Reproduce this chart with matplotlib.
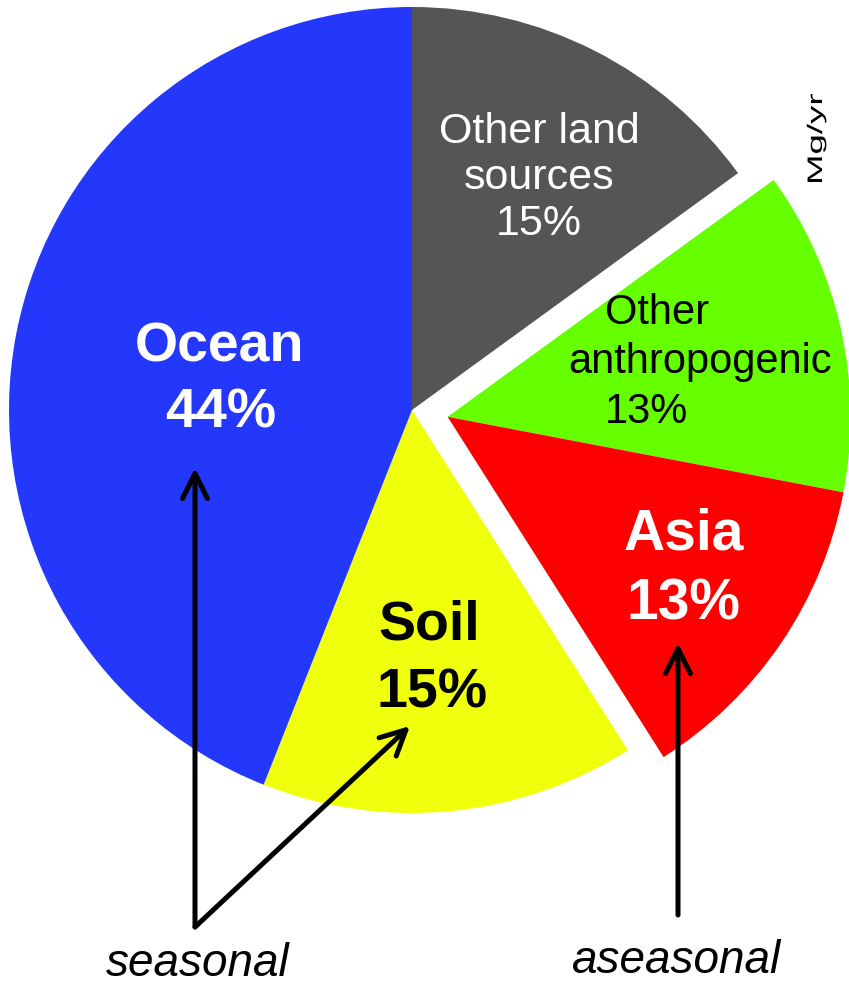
import matplotlib
matplotlib.use("Agg")
import matplotlib.pyplot as plt
import numpy as np
from matplotlib.textpath import TextPath
from matplotlib.patches import PathPatch
from matplotlib.font_manager import FontProperties
from matplotlib.transforms import Affine2D

plt.rcParams['font.family'] = ['Liberation Sans', 'DejaVu Sans']

# source shares, clockwise from 12 o'clock
sources = ['Other land sources', 'Other anthropogenic', 'Asia', 'Soil', 'Ocean']
shares = [15, 13, 13, 15, 44]
colors = ['#555555', '#66ff00', '#ff0000', '#f0ff0c', '#2438fb']
pulled_out = ['Other anthropogenic', 'Asia']

W, H = 849, 990
cx, cy, R = 412, 410, 403

fig = plt.figure(figsize=(W / 100, H / 100), dpi=100)
ax = fig.add_axes([0, 0, 1, 1])

# y axis runs downward, so counterclock=True draws clockwise on screen
wedges, _ = ax.pie(shares, colors=colors, startangle=-90, counterclock=True,
                   center=(cx, cy), radius=R,
                   wedgeprops=dict(linewidth=0))

# pull the two anthropogenic-type wedges out together along their shared bisector
grp = [sources.index(s) for s in pulled_out]
th1 = min(wedges[i].theta1 for i in grp)
th2 = max(wedges[i].theta2 for i in grp)
mid = np.deg2rad((th1 + th2) / 2)
off = 0.09 * R
for i in grp:
    wedges[i].set_center((cx + off * np.cos(mid), cy + off * np.sin(mid)))

ax.set_xlim(0, W)
ax.set_ylim(H, 0)
ax.set_aspect('equal')
ax.axis('off')

# slice labels
ax.text(220, 347, 'Ocean', color='white', fontsize=40, fontweight='bold', ha='center', va='center')
ax.text(221, 414, '44%', color='white', fontsize=40, fontweight='bold', ha='center', va='center')

ax.text(539, 178, 'Other land\nsources\n15%', color='white', fontsize=31,
        ha='center', va='center', linespacing=1.18)

ax.text(605, 313, 'Other', color='black', fontsize=30, ha='left', va='center')
ax.text(568, 362, 'anthropogenic', color='black', fontsize=30, ha='left', va='center')
ax.text(605, 412, '13%', color='black', fontsize=30, ha='left', va='center')

ax.text(684, 535, 'Asia', color='white', fontsize=41, fontweight='bold', ha='center', va='center')
ax.text(683, 604, '13%', color='white', fontsize=41, fontweight='bold', ha='center', va='center')

ax.text(429, 625, 'Soil', color='black', fontsize=40, fontweight='bold', ha='center', va='center')
ax.text(432, 693, '15%', color='black', fontsize=40, fontweight='bold', ha='center', va='center')

# unit label, stretched along its baseline
tp = TextPath((0, 0), 'Mg/yr', size=21, prop=FontProperties(family='Liberation Sans'))
ext = tp.get_extents()
sx = 88 / ext.width
# text x -> screen up, text y -> screen left (data y axis is inverted)
tr = Affine2D.from_values(0, -sx, -1, 0, 822, 182 + ext.x0 * sx)
ax.add_patch(PathPatch(tr.transform_path(tp), color='black', lw=0))

# seasonality arrows
arrow = dict(arrowstyle='->,head_length=0.9,head_width=0.45', color='black',
             lw=3.6, shrinkA=0, shrinkB=0, mutation_scale=20)
ax.annotate('', xy=(195, 468), xytext=(195, 927), arrowprops=arrow)
ax.annotate('', xy=(410, 726), xytext=(195, 927), arrowprops=arrow)
ax.annotate('', xy=(678, 643), xytext=(678, 915), arrowprops=arrow)

ax.text(198, 964, 'seasonal', fontsize=33, style='italic', ha='center', va='center')
ax.text(677, 961, 'aseasonal', fontsize=33, style='italic', ha='center', va='center')

fig.savefig('out.png', dpi=100, facecolor='white')
